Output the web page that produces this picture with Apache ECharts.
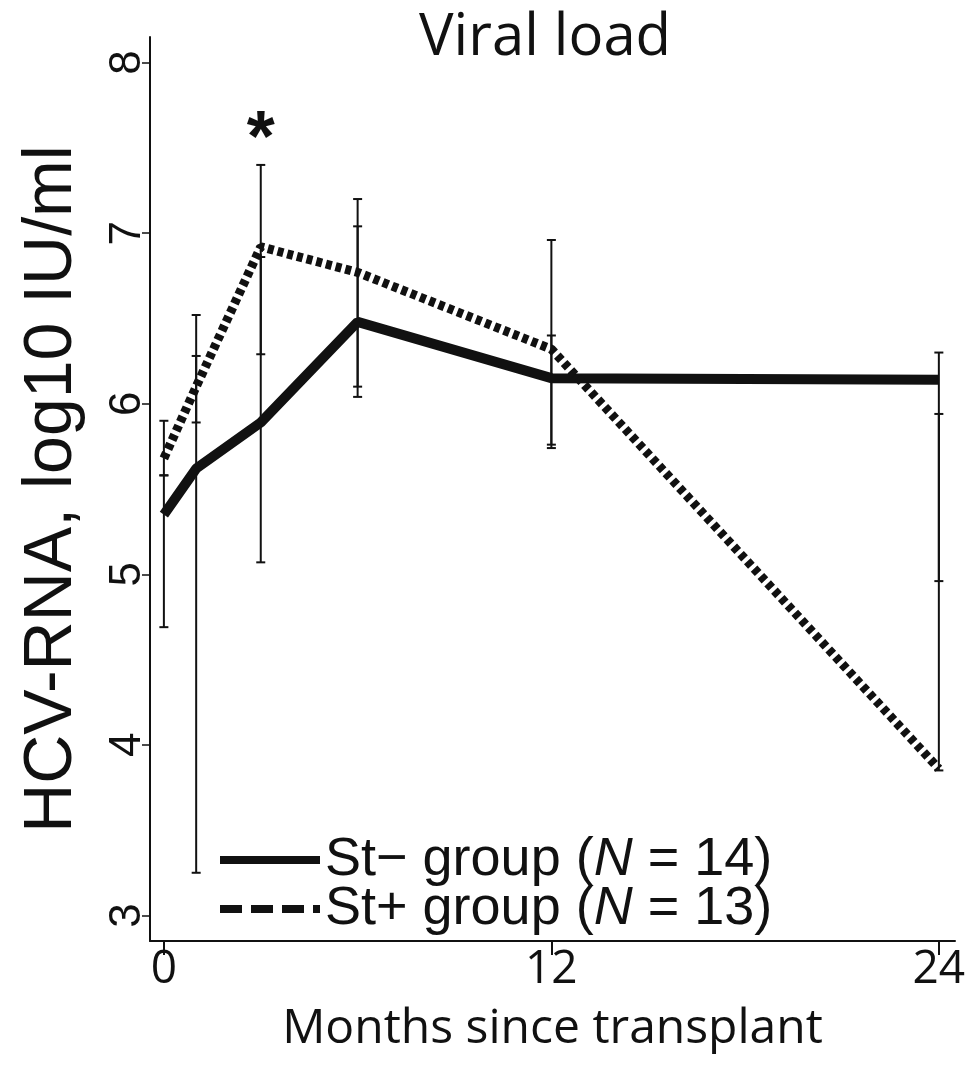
<!DOCTYPE html>
<html>
<head>
<meta charset="utf-8">
<title>Viral load</title>
<script src="https://cdn.jsdelivr.net/npm/echarts@6/dist/echarts.min.js"></script>
<style>
  html, body { margin: 0; padding: 0; background: #fff; }
  #chart { width: 974px; height: 1065px; }
</style>
</head>
<body>
<div id="chart"></div>
<script>
// months since transplant
const months = [0, 1, 3, 6, 12, 24];
const xTicks = [0, 12, 24];
const yTicks = [3, 4, 5, 6, 7, 8];

// St- group (N = 14)
const stMinus = [5.35, 5.62, 5.89, 6.48, 6.15, 6.14];
const stMinusLow = [4.69, 3.25, 5.07, 6.04, 5.74, 4.96];
const stMinusHigh = [5.58, 6.52, 6.86, 7.04, 6.40, 6.30];

// St+ group (N = 13)
const stPlus = [5.68, 6.10, 6.92, 6.77, 6.32, 3.86];
const stPlusLow = [5.58, 5.89, 6.29, 6.10, 5.76, 3.85];
const stPlusHigh = [5.90, 6.28, 7.40, 7.20, 6.96, 5.94];

// significance mark
const starPoint = [3, 7.54];

const chart = echarts.init(document.getElementById('chart'));

function errorBars(low, high) {
  return {
    type: 'custom',
    silent: true,
    z: 3,
    data: months.map((m, i) => [m, low[i], high[i]]),
    encode: { x: 0, y: [1, 2] },
    renderItem: function (params, api) {
      const x = api.value(0);
      const a = api.coord([x, api.value(1)]);
      const b = api.coord([x, api.value(2)]);
      const w = 4.5;
      const st = { stroke: '#111', lineWidth: 2 };
      return {
        type: 'group',
        children: [
          { type: 'line', shape: { x1: a[0], y1: a[1], x2: b[0], y2: b[1] }, style: st },
          { type: 'line', shape: { x1: a[0] - w, y1: a[1], x2: a[0] + w, y2: a[1] }, style: st },
          { type: 'line', shape: { x1: b[0] - w, y1: b[1], x2: b[0] + w, y2: b[1] }, style: st }
        ]
      };
    }
  };
}

const option = {
  backgroundColor: '#fff',
  animation: false,
  title: {
    text: 'Viral load',
    left: 414,
    top: 4,
    textStyle: { fontFamily: 'Open Sans', fontSize: 58, fontWeight: 'normal', color: '#111' }
  },
  legend: {
    orient: 'vertical',
    left: 215,
    top: 828,
    itemWidth: 100,
    itemHeight: 8,
    itemGap: -5,
    data: [
      { name: 'St- group', icon: 'rect' },
      { name: 'St+ group', icon: 'path://M0,0h22v8h-22z M31,0h22v8h-22z M62,0h22v8h-22z M93,0h7v8h-7z' }
    ],
    itemStyle: { color: '#111' },
    formatter: function (name) {
      const n = name === 'St- group' ? 14 : 13;
      const label = name === 'St- group' ? 'St\u2212 group (' : 'St+ group (';
      return '{a|' + label + '}{i|N}{a| = ' + n + ')}';
    },
    textStyle: {
      color: '#111',
      rich: {
        a: { fontFamily: 'Liberation Sans', fontSize: 54, lineHeight: 43, color: '#111' },
        i: { fontFamily: 'Liberation Sans', fontSize: 54, lineHeight: 43, fontStyle: 'italic', color: '#111' }
      }
    }
  },
  grid: { left: 150, right: 19, top: 37, bottom: 124 },
  xAxis: {
    type: 'value',
    min: -0.43,
    max: 24.5,
    name: 'Months since transplant',
    nameLocation: 'middle',
    nameGap: 64,
    nameTextStyle: { fontFamily: 'Open Sans', fontSize: 48, color: '#111' },
    axisLine: { onZero: false, lineStyle: { color: '#111', width: 2 } },
    axisTick: { customValues: xTicks, length: 14, lineStyle: { color: '#111', width: 2 } },
    axisLabel: { customValues: xTicks, margin: 6, fontFamily: 'Open Sans', fontSize: 46, color: '#111' },
    splitLine: { show: false }
  },
  yAxis: {
    type: 'value',
    min: 2.85,
    max: 8.15,
    name: 'HCV-RNA, log10 IU/ml',
    nameLocation: 'middle',
    nameRotate: 90,
    nameGap: 64,
    nameTextStyle: { fontFamily: 'Liberation Sans', fontSize: 68, color: '#111' },
    axisLine: { onZero: false, lineStyle: { color: '#111', width: 2 } },
    axisTick: { customValues: yTicks, length: 8, lineStyle: { color: '#111', width: 1.5 } },
    axisLabel: { customValues: yTicks, rotate: 90, margin: 0, fontFamily: 'Liberation Sans', fontSize: 44, color: '#111' },
    splitLine: { show: false }
  },
  series: [
    errorBars(stMinusLow, stMinusHigh),
    errorBars(stPlusLow, stPlusHigh),
    {
      name: 'St- group',
      type: 'line',
      z: 4,
      symbol: 'none',
      data: months.map((m, i) => [m, stMinus[i]]),
      lineStyle: { color: '#111', width: 10, type: 'solid' },
      itemStyle: { color: '#111' }
    },
    {
      name: 'St+ group',
      type: 'line',
      z: 5,
      symbol: 'none',
      data: months.map((m, i) => [m, stPlus[i]]),
      lineStyle: { color: '#111', width: 9, type: [6, 4] },
      itemStyle: { color: '#111' },
      markPoint: {
        symbol: 'circle',
        symbolSize: 0,
        data: [{ coord: starPoint }],
        label: {
          show: true,
          position: 'inside',
          formatter: '*',
          fontFamily: 'Liberation Sans',
          fontSize: 72,
          fontWeight: 'bold',
          color: '#111'
        }
      }
    }
  ]
};

chart.setOption(option);
</script>
</body>
</html>
